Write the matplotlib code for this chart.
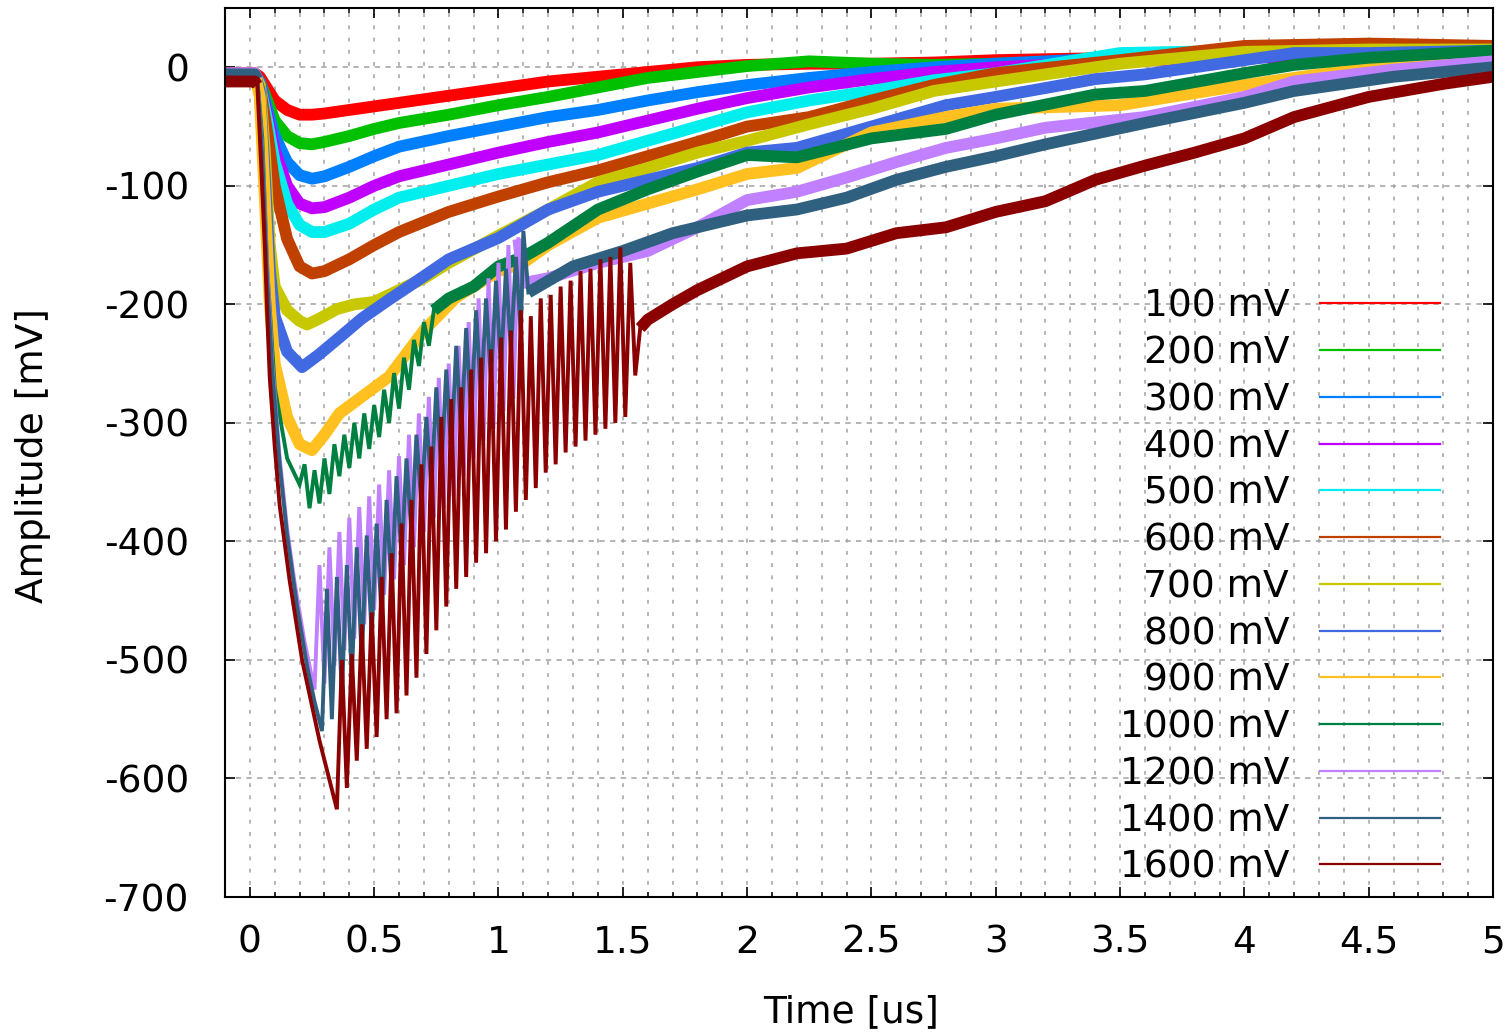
import matplotlib
matplotlib.use('Agg')
import matplotlib.pyplot as plt
import numpy as np
from matplotlib.ticker import MultipleLocator, FuncFormatter

plt.rcParams['font.family'] = ['DejaVu Sans']
plt.rcParams['axes.unicode_minus'] = False

labels = ['100 mV', '200 mV', '300 mV', '400 mV', '500 mV', '600 mV', '700 mV',
          '800 mV', '900 mV', '1000 mV', '1200 mV', '1400 mV', '1600 mV']
colors = ['#ff0000', '#00c000', '#0080ff', '#c000ff', '#00eeee', '#c04000', '#c8c800',
          '#4169e1', '#ffc020', '#008040', '#c080ff', '#306080', '#8b0000']

# time base (us) shared by the smooth traces
t_smooth = [-0.10, 0.02, 0.04, 0.07, 0.10, 0.15, 0.20, 0.25, 0.30, 0.40, 0.50, 0.60, 0.80,
            1.00, 1.20, 1.40, 1.60, 1.80, 2.00, 2.25, 2.50, 2.75, 3.00, 3.50, 4.00, 4.50, 5.00]

v_100 = [-5, -5, -8, -18, -28, -36, -40, -40, -39, -36, -33, -30, -24,
         -18, -12, -8, -4, 0, 2, 3, 3, 4, 6, 8, 10, 12, 12]
v_200 = [-8, -8, -12, -28, -45, -58, -64, -65, -63, -58, -52, -47, -40,
         -32, -25, -17, -9, -4, 1, 5, 3, 2, 3, 6, 10, 12, 14]
v_300 = [-6, -6, -12, -35, -58, -80, -91, -94, -92, -84, -75, -67, -58,
         -50, -42, -36, -28, -21, -15, -9, -4, 0, 3, 8, 10, 12, 14]
v_400 = [-6, -6, -14, -40, -70, -100, -115, -119, -118, -110, -100, -92, -82,
         -72, -63, -55, -45, -35, -26, -17, -10, -4, 0, 5, 8, 10, 12]
v_500 = [-6, -6, -15, -45, -80, -115, -133, -139, -139, -132, -120, -110, -100,
         -90, -82, -74, -62, -50, -38, -28, -20, -11, -5, 12, 14, 12, 12]
v_600 = [-6, -6, -16, -55, -100, -145, -168, -174, -172, -162, -150, -139, -122,
         -109, -97, -87, -75, -63, -50, -42, -28, -15, -5, 6, 18, 20, 18]

t_700 = [-0.10, 0.02, 0.04, 0.06, 0.08, 0.10, 0.15, 0.20, 0.23, 0.28, 0.35, 0.42, 0.50,
         0.60, 0.70, 0.80, 1.00, 1.20, 1.40, 1.60, 1.80, 2.00, 2.25, 2.50, 2.75, 3.00,
         3.50, 4.00, 4.50, 5.00]
v_700 = [-6, -6, -15, -70, -150, -185, -205, -214, -217, -212, -204, -200, -198,
         -188, -178, -165, -142, -120, -97, -85, -72, -62, -48, -35, -20, -12,
         3, 13, 15, 15]

t_800 = [-0.10, 0.02, 0.04, 0.06, 0.08, 0.10, 0.15, 0.21, 0.28, 0.36, 0.45, 0.56, 0.66,
         0.80, 1.00, 1.20, 1.40, 1.60, 1.80, 2.00, 2.20, 2.50, 2.80, 3.00, 3.40, 3.60,
         4.00, 4.20, 4.50, 5.00]
v_800 = [-6, -6, -20, -90, -170, -210, -240, -253, -242, -228, -212, -196, -182,
         -162, -144, -120, -105, -95, -85, -72, -68, -50, -32, -25, -10, -6,
         6, 12, 12, 14]

t_900 = [-0.10, 0.02, 0.04, 0.06, 0.08, 0.10, 0.15, 0.20, 0.25, 0.30, 0.36, 0.45, 0.56,
         0.70, 0.83, 1.00, 1.10, 1.20, 1.40, 1.60, 1.80, 2.00, 2.20, 2.50, 2.80, 3.00,
         3.50, 4.00, 4.50, 5.00]
v_900 = [-6, -6, -25, -110, -200, -250, -295, -318, -323, -310, -292, -278, -261,
         -222, -194, -172, -165, -150, -127, -115, -103, -90, -85, -55, -42, -35,
         -32, -15, 0, 8]

t_1000 = [-0.10, 0.02, 0.03, 0.05, 0.07, 0.10, 0.15, 0.20,
          0.22, 0.24, 0.26, 0.28, 0.30, 0.32, 0.34, 0.36, 0.38, 0.40, 0.42, 0.44,
          0.46, 0.48, 0.50, 0.52, 0.54, 0.56, 0.58, 0.60, 0.62, 0.64, 0.66, 0.68,
          0.70, 0.72, 0.74,
          0.80, 0.90, 1.00, 1.10, 1.20, 1.40, 1.60, 1.80, 2.00, 2.20, 2.50, 2.80,
          3.00, 3.40, 3.60, 4.00, 4.20, 4.50, 5.00]
v_1000 = [-8, -8, -10, -60, -170, -270, -330, -352,
          -335, -372, -340, -368, -330, -360, -318, -345, -310, -338, -300, -330,
          -292, -322, -285, -312, -272, -300, -258, -288, -245, -272, -230, -252,
          -215, -235, -205,
          -195, -185, -168, -160, -148, -120, -103, -88, -74, -76, -60, -52,
          -40, -23, -20, -5, 2, 8, 14]

t_1200 = [-0.10, 0.02, 0.03, 0.05, 0.07, 0.09, 0.12, 0.15, 0.18, 0.22, 0.26,
          0.28, 0.30, 0.32, 0.34, 0.36, 0.38, 0.40, 0.42, 0.44, 0.46, 0.48, 0.50,
          0.52, 0.54, 0.56, 0.58, 0.60, 0.62, 0.64, 0.66, 0.68, 0.70, 0.72, 0.74,
          0.76, 0.78, 0.80, 0.82, 0.84, 0.86, 0.88, 0.90, 0.92, 0.94, 0.96, 0.98,
          1.00, 1.02, 1.04, 1.06,
          1.08, 1.10, 1.20, 1.40, 1.60, 1.80, 2.00, 2.20, 2.40, 2.60, 2.80, 3.00,
          3.20, 3.60, 4.00, 4.20, 4.60, 5.00]
v_1200 = [-5, -5, -10, -70, -170, -250, -330, -390, -435, -485, -525,
          -420, -520, -405, -505, -392, -492, -380, -482, -371, -470, -362, -458,
          -352, -445, -340, -432, -328, -420, -310, -405, -292, -392, -278, -380,
          -262, -372, -250, -362, -235, -345, -215, -330, -195, -315, -178, -305,
          -165, -290, -150, -280,
          -145, -182, -178, -165, -155, -135, -112, -105, -93, -80, -68, -60,
          -51, -42, -25, -12, -2, 5]

t_1400 = [-0.10, 0.02, 0.03, 0.05, 0.07, 0.09, 0.12, 0.15, 0.19, 0.23, 0.26, 0.29,
          0.31, 0.33, 0.35, 0.37, 0.39, 0.41, 0.43, 0.45, 0.47, 0.49, 0.51, 0.53,
          0.55, 0.57, 0.59, 0.61, 0.63, 0.65, 0.67, 0.69, 0.71, 0.73, 0.75, 0.77,
          0.79, 0.81, 0.83, 0.85, 0.87, 0.89, 0.91, 0.93, 0.95, 0.97, 0.99, 1.01,
          1.03, 1.05, 1.07, 1.09,
          1.10, 1.12, 1.30, 1.50, 1.70, 2.00, 2.20, 2.40, 2.60, 2.80, 3.00, 3.20,
          3.60, 4.00, 4.20, 4.60, 5.00]
v_1400 = [-6, -6, -10, -75, -180, -255, -335, -395, -455, -505, -535, -560,
          -440, -550, -430, -530, -420, -515, -405, -500, -395, -480, -385, -465,
          -365, -440, -345, -415, -330, -395, -310, -370, -295, -355, -270, -340,
          -255, -325, -235, -310, -220, -295, -205, -280, -195, -265, -180, -255,
          -170, -240, -160, -225,
          -138, -190, -168, -155, -140, -125, -120, -110, -95, -84, -75, -65,
          -47, -30, -20, -8, 0]

t_1600 = [-0.10, 0.02, 0.03, 0.045, 0.06, 0.07, 0.08, 0.10, 0.12, 0.16, 0.21, 0.28, 0.35,
          0.37, 0.39, 0.41, 0.43, 0.45, 0.47, 0.49, 0.51, 0.53, 0.55, 0.57, 0.59,
          0.61, 0.63, 0.65, 0.67, 0.69, 0.71, 0.73, 0.75, 0.77, 0.79, 0.81, 0.83,
          0.85, 0.87, 0.89, 0.91, 0.93, 0.95, 0.97, 0.99, 1.01, 1.03, 1.05, 1.07,
          1.09, 1.11, 1.13, 1.15, 1.17, 1.19, 1.21, 1.23, 1.25, 1.27, 1.29, 1.31,
          1.33, 1.35, 1.37, 1.39, 1.41, 1.43, 1.45, 1.47, 1.49, 1.51, 1.53, 1.55,
          1.57, 1.60, 1.70, 1.80, 2.00, 2.20, 2.40, 2.60, 2.80, 3.00, 3.20, 3.40,
          3.60, 3.80, 4.00, 4.20, 4.50, 4.80, 5.00]
v_1600 = [-12, -12, -15, -80, -150, -210, -262, -320, -370, -433, -500, -568, -626,
          -500, -608, -495, -585, -470, -575, -460, -565, -430, -550, -410, -545,
          -385, -530, -365, -515, -335, -495, -320, -475, -295, -455, -280, -440,
          -270, -430, -255, -418, -245, -410, -238, -400, -228, -390, -222, -375,
          -205, -365, -210, -355, -195, -342, -192, -335, -185, -325, -180, -320,
          -172, -315, -170, -310, -162, -305, -160, -300, -152, -295, -165, -260,
          -220, -213, -200, -188, -168, -157, -153, -140, -135, -122, -113, -95,
          -83, -72, -60, -42, -25, -14, -8]

series_t = [t_smooth, t_smooth, t_smooth, t_smooth, t_smooth, t_smooth, t_700,
            t_800, t_900, t_1000, t_1200, t_1400, t_1600]
series_v = [v_100, v_200, v_300, v_400, v_500, v_600, v_700,
            v_800, v_900, v_1000, v_1200, v_1400, v_1600]
# time windows (us) where the trace is drawn as a thin oscillating line
thin_windows = [None] * 9 + [(0.03, 0.74), (0.03, 1.08), (0.03, 1.12), (0.03, 1.57)]

fig = plt.figure(figsize=(15.12, 10.32), dpi=100)
ax = fig.add_axes([225 / 1512, 1 - 897 / 1032, 1268 / 1512, 889 / 1032])

THICK = 8.5
THIN = 2.8
for i, (tt, vv) in enumerate(zip(series_t, series_v)):
    tt = np.asarray(tt)
    vv = np.asarray(vv)
    z = 2 + i
    w = thin_windows[i]
    if w is None:
        ax.plot(tt, vv, color=colors[i], lw=THICK, solid_joinstyle='round',
                solid_capstyle='butt', zorder=z)
    else:
        a, b = w
        m1 = tt <= a
        m2 = (tt >= a) & (tt <= b)
        m3 = tt >= b
        ax.plot(tt[m1], vv[m1], color=colors[i], lw=THICK, solid_capstyle='butt', zorder=z)
        ax.plot(tt[m2], vv[m2], color=colors[i], lw=THIN, solid_joinstyle='miter', zorder=z)
        ax.plot(tt[m3], vv[m3], color=colors[i], lw=THICK, solid_joinstyle='round',
                solid_capstyle='butt', zorder=z)

ax.set_xlim(-0.1, 5.0)
ax.set_ylim(-700, 50)
ax.xaxis.set_major_locator(MultipleLocator(0.5))
ax.xaxis.set_minor_locator(MultipleLocator(0.1))
ax.set_yticks([0, -100, -200, -300, -400, -500, -600, -700])
ax.xaxis.set_major_formatter(FuncFormatter(lambda x, p: '%g' % x))

FS = 27
ax.tick_params(axis='both', which='major', direction='in', length=7.5, width=1.2,
               top=True, right=True, labelsize=FS, colors='black')
ax.tick_params(axis='x', which='major', pad=20)
ax.tick_params(axis='y', which='major', pad=26)
ax.tick_params(axis='x', which='minor', direction='in', length=3.8, width=1.1,
               top=True, bottom=True)
for sp in ax.spines.values():
    sp.set_linewidth(1.5)
    sp.set_zorder(30)

ax.xaxis.grid(True, which='both', color='#a0a0a0', lw=1.1, ls=(0, (2.5, 5.5)), zorder=1)
ax.yaxis.grid(True, which='major', color='#a0a0a0', lw=1.1, ls=(0, (3.5, 3.5)), zorder=1)
ax.set_axisbelow(True)

# gnuplot-style key: right-aligned labels followed by line samples
row0 = (897 - 303.3) / 889
step = 46.75 / 889
x_text = (1289 - 225) / 1268
x_l0 = (1320 - 225) / 1268
x_l1 = (1440 - 225) / 1268
for i, lab in enumerate(labels):
    yy = row0 - i * step
    ax.text(x_text, yy - 13.5 / 889, lab, transform=ax.transAxes, ha='right',
            va='baseline', fontsize=FS, color='black', zorder=40)
    ax.plot([x_l0, x_l1], [yy, yy], transform=ax.transAxes, color=colors[i], lw=1.6,
            zorder=40, clip_on=False)

fig.text(33 / 1512, 1 - 456 / 1032, 'Amplitude [mV]', rotation=90, ha='center',
         va='center', fontsize=FS)
fig.text(851 / 1512, 1 - 1012 / 1032, 'Time [us]', ha='center', va='center', fontsize=FS)

fig.savefig('out.png', dpi=100)
